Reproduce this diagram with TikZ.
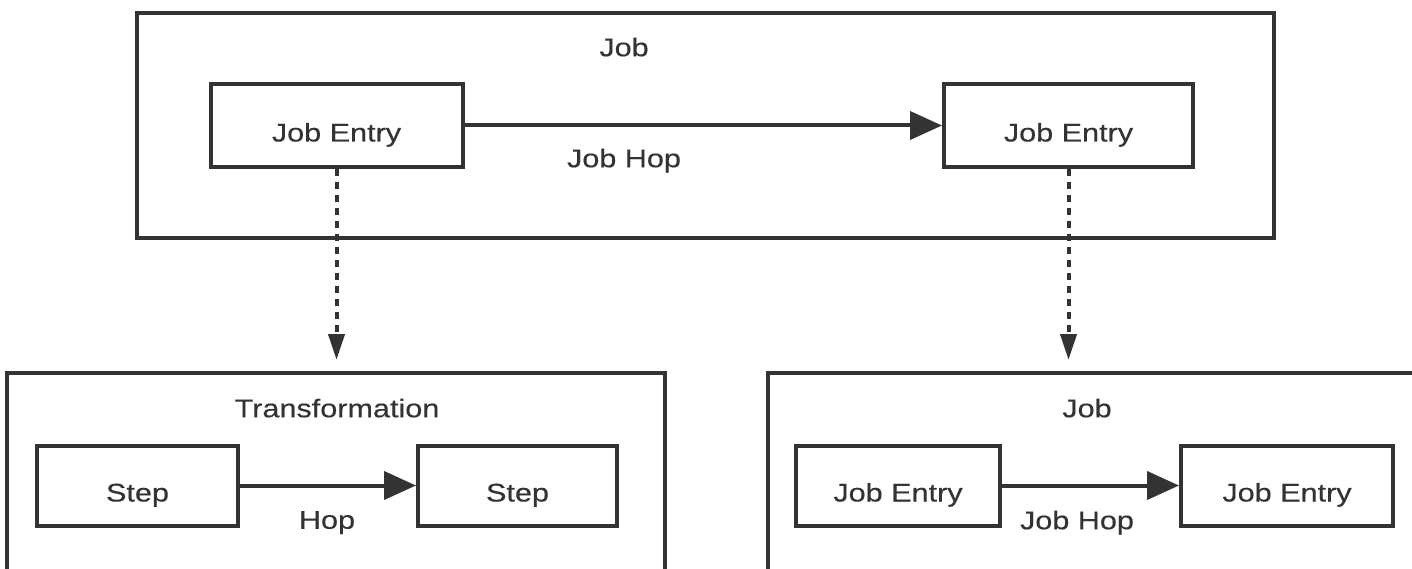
\documentclass[tikz,border=0pt]{standalone}
\usepackage{fontspec}
\setmainfont{Liberation Sans}[FakeStretch=1.2,FakeBold=0.4]
\usetikzlibrary{arrows.meta}
\definecolor{ink}{HTML}{333333}

\begin{document}
\begin{tikzpicture}[x=1pt,y=-1pt,font=\fontsize{25.5}{30}\selectfont,text=ink,
  frame/.style={draw=ink,line width=4pt},
  box/.style={draw=ink,line width=4pt,minimum height=80,text height=32pt,text depth=0pt},
  lbl/.style={text depth=0pt,inner sep=0pt},
  hop/.style={draw=ink,line width=4pt,-{Triangle[length=32pt,width=28pt]}},
  link/.style={draw=ink,line width=4pt,dash pattern=on 7pt off 6pt,shorten >=11pt,
    -{Triangle[length=26pt,width=16pt]}}]
 \useasboundingbox (0,0) rectangle (1412,569);
 % upper job
 \node[frame,minimum width=1137,minimum height=225] (job) at (705.5,125.5) {};
 \node[lbl] (jobtitle) at (624,47) {Job};
 \node[box,minimum width=252,minimum height=83] (entryA) at (336.5,125.5) {Job Entry};
 \node[box,minimum width=249,minimum height=83] (entryB) at (1068.5,125.5) {Job Entry};
 \draw[hop] (entryA) -- (entryB);
 \node[lbl] (jobhop) at (624,158) {Job Hop};
 % lower left: transformation
 \node[frame,minimum width=658,minimum height=227] (trans) at (336,486.5) {};
 \node[lbl] (transtitle) at (337,408) {Transformation};
 \node[box,minimum width=201] (stepA) at (137.5,485.5) {Step};
 \node[box,minimum width=199] (stepB) at (517.5,485.5) {Step};
 \draw[hop] (stepA) -- (stepB);
 \node[lbl] (stephop) at (327,520) {Hop};
 % lower right: sub job
 \node[frame,minimum width=652,minimum height=227] (subjob) at (1094,486.5) {};
 \node[lbl] (subtitle) at (1087,408) {Job};
 \node[box,minimum width=204] (subA) at (898,485.5) {Job Entry};
 \node[box,minimum width=212] (subB) at (1287,485.5) {Job Entry};
 \draw[hop] (subA) -- (subB);
 \node[lbl] (subhop) at (1077,520) {Job Hop};
 % links
 \draw[link] (entryA.south) -- (entryA.south |- trans.north);
 \draw[link] (entryB.south) -- (entryB.south |- subjob.north);
\end{tikzpicture}
\end{document}
